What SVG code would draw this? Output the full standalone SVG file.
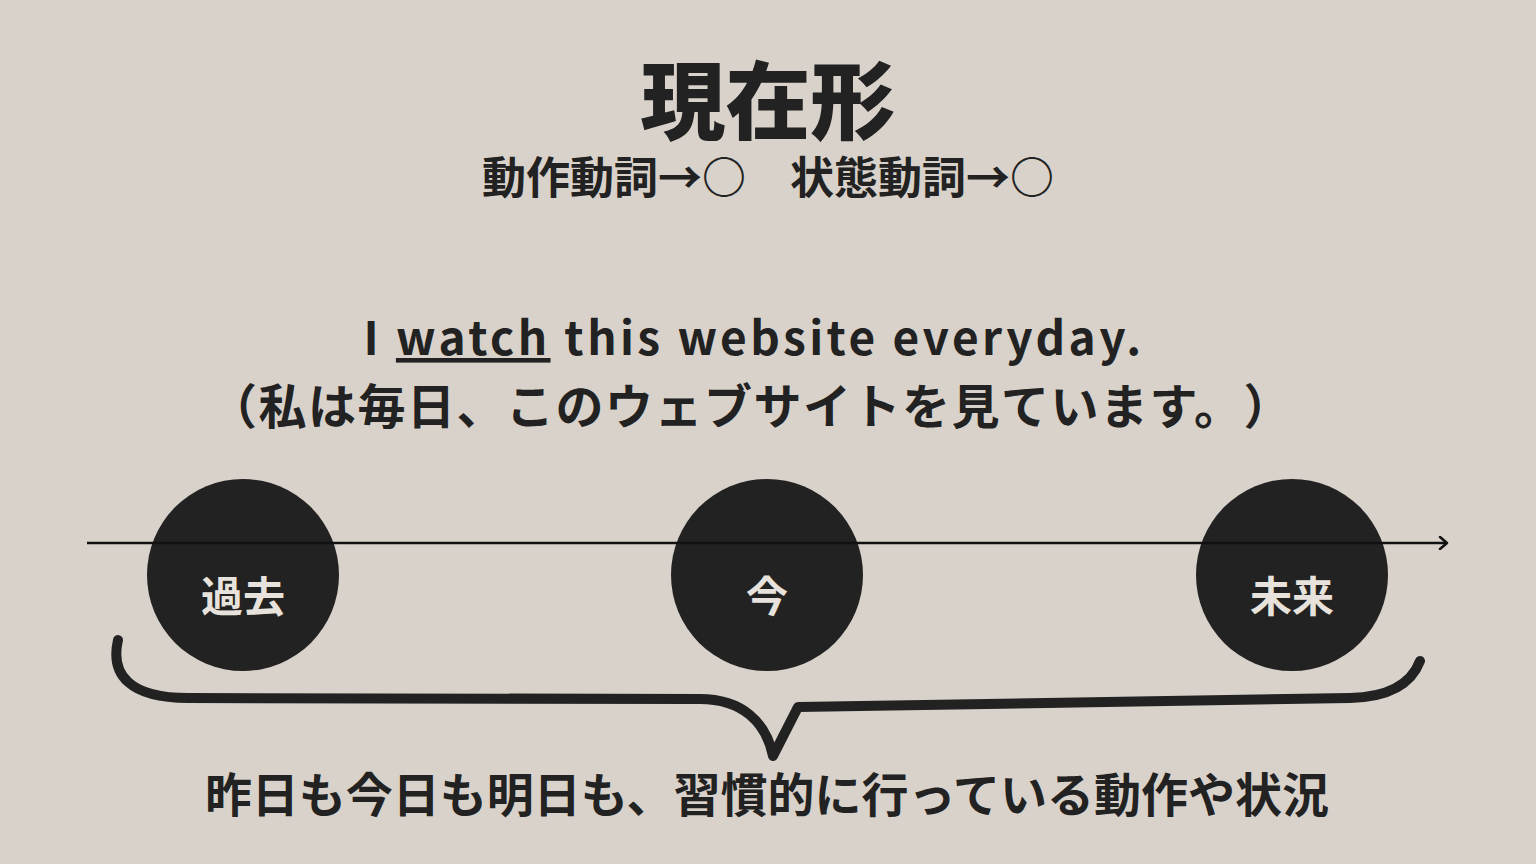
<svg xmlns="http://www.w3.org/2000/svg" width="1536" height="864" viewBox="0 0 1536 864">
<defs>
<style>
.jp{font-family:"Noto Sans CJK JP","Noto Sans",sans-serif;fill:#222;text-anchor:middle;font-weight:700;text-spacing-trim:space-all}
.lbl{font-family:"Noto Sans CJK JP","Noto Sans",sans-serif;fill:#e8e2dc;text-anchor:middle;font-weight:700;font-size:42px}
.dot{fill:#222}
</style>
<marker id="arr" markerWidth="12" markerHeight="14" refX="9" refY="7" orient="auto" markerUnits="userSpaceOnUse">
<path d="M2,1 L9,7 L2,13" fill="none" stroke="#111" stroke-width="2.5" stroke-linecap="round" stroke-linejoin="round"/>
</marker>
</defs>
<rect width="1536" height="864" fill="#d9d2cb"/>
<g id="title">
<text class="jp" x="768" y="133" font-size="85" style="font-weight:900">現在形</text>
<text class="jp" x="768" y="194" font-size="44">動作動詞→○　状態動詞→○</text>
</g>
<g id="sentence">
<text class="jp" x="754" y="355" font-size="46" letter-spacing="3.4">I <tspan text-decoration="underline">watch</tspan> this website everyday.</text>
<text class="jp" x="751" y="424" font-size="48" letter-spacing="1.5">（私は毎日、このウェブサイトを見ています。）</text>
</g>
<g id="node-past">
<circle class="dot" cx="243" cy="575" r="96"/>
<text class="lbl" x="243" y="612">過去</text>
</g>
<g id="node-now">
<circle class="dot" cx="767" cy="575" r="96"/>
<text class="lbl" x="767" y="612">今</text>
</g>
<g id="node-future">
<circle class="dot" cx="1292" cy="575" r="96"/>
<text class="lbl" x="1292" y="612">未来</text>
</g>
<g id="connectors">
<line x1="87" y1="543" x2="1447" y2="543" stroke="#111" stroke-width="2.5" marker-end="url(#arr)"/>
<path d="M118,640 C110,675 130,698 188,698 L700,699 C742,699 766,722 773,756 L798,707 L1350,698 C1392,697 1412,682 1420,661" fill="none" stroke="#222" stroke-width="10" stroke-linecap="round" stroke-linejoin="round"/>
</g>
<g id="caption">
<text class="jp" x="767" y="812" font-size="47">昨日も今日も明日も、習慣的に行っている動作や状況</text>
</g>
</svg>
